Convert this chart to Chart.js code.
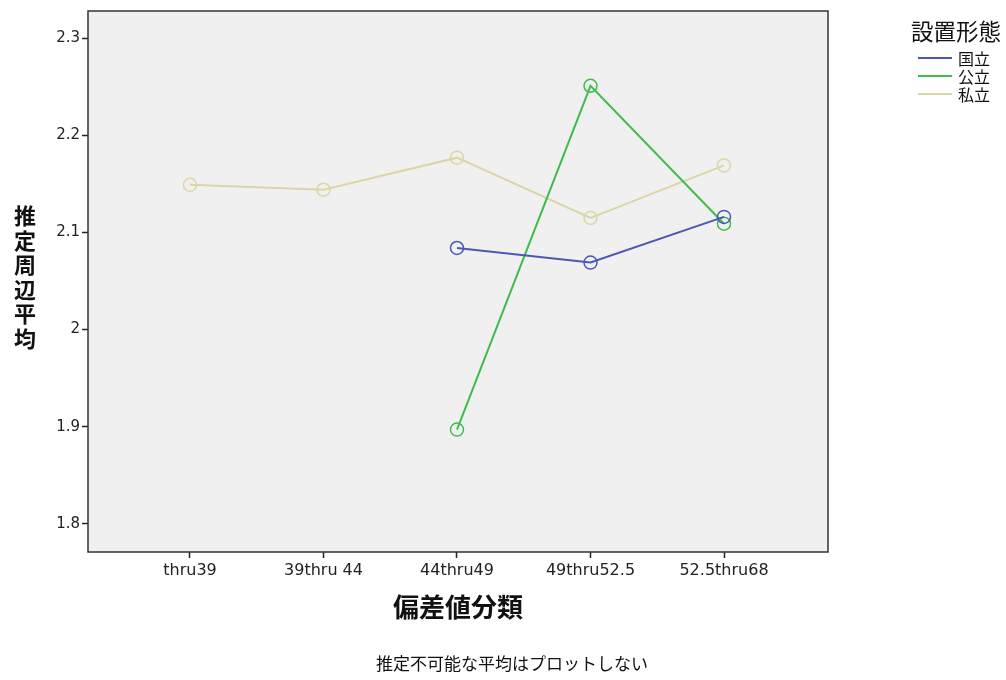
<!DOCTYPE html>
<html>
<head>
<meta charset="utf-8">
<script src="https://cdn.jsdelivr.net/npm/chart.js@4/dist/chart.umd.min.js"></script>
<style>
  html, body { margin: 0; padding: 0; background: #fff; }
  #wrap { position: relative; width: 1006px; height: 680px; font-family: "Noto Sans CJK JP", sans-serif; color: #111; }
  #wrap canvas { position: absolute; left: 0; top: 0; }
  .ytitle { position: absolute; left: 13px; top: 202px; width: 24px; font-size: 22px; line-height: 24.5px; font-weight: 700; text-align: center; }
  .xtitle { position: absolute; left: 358px; top: 590px; width: 200px; text-align: center; font-size: 26px; font-weight: 700; line-height: 32px; }
  .note { position: absolute; left: 312px; top: 652px; width: 400px; text-align: center; font-size: 17px; line-height: 22px; }
  .legend { position: absolute; left: 911px; top: 15px; }
  .legend .ttl { font-size: 22.5px; line-height: 30px; margin-bottom: 4px; }
  .legend .item { display: flex; align-items: center; height: 18px; font-size: 16px; line-height: 18px; margin-left: 7px; }
  .legend .sw { width: 34px; height: 2px; margin-right: 6px; }
</style>
</head>
<body>
<div id="wrap">
  <canvas id="chart" width="1006" height="680"></canvas>
  <div class="ytitle">推<br>定<br>周<br>辺<br>平<br>均</div>
  <div class="xtitle">偏差値分類</div>
  <div class="note">推定不可能な平均はプロットしない</div>
  <div class="legend" id="legend"><div class="ttl">設置形態</div></div>
</div>
<script>
// categories (偏差値分類)
const categories = ['thru39', '39thru 44', '44thru49', '49thru52.5', '52.5thru68'];

// estimated marginal means per 設置形態
const kokuritsu = [null, null, 2.084, 2.069, 2.116];   // 国立
const kouritsu  = [null, null, 1.897, 2.251, 2.109];   // 公立
const shiritsu  = [2.149, 2.144, 2.177, 2.115, 2.169]; // 私立

const seriesNames = ['国立', '公立', '私立'];
const seriesColors = ['#4a58b4', '#3fbd4c', '#dcd5a4'];

const yTicks = [1.8, 1.9, 2.0, 2.1, 2.2, 2.3];

function toPoints(vals) {
  return vals.map((v, i) => ({ x: i, y: v }));
}

// plot background + frame
const frame = {
  id: 'frame',
  beforeDraw(chart) {
    const { ctx, chartArea: a } = chart;
    ctx.save();
    ctx.fillStyle = '#f0f0f0';
    ctx.fillRect(a.left, a.top, a.right - a.left, a.bottom - a.top);
    ctx.restore();
  },
  afterDraw(chart) {
    const { ctx, chartArea: a } = chart;
    ctx.save();
    ctx.strokeStyle = '#333';
    ctx.lineWidth = 1.5;
    ctx.strokeRect(a.left, a.top, a.right - a.left, a.bottom - a.top);
    ctx.restore();
  }
};

const datasets = [kokuritsu, kouritsu, shiritsu].map((vals, i) => ({
  label: seriesNames[i],
  data: toPoints(vals),
  borderColor: seriesColors[i],
  backgroundColor: 'transparent',
  borderWidth: 2,
  pointRadius: 6.5,
  pointBorderWidth: 1.5,
  pointBackgroundColor: 'transparent',
  pointBorderColor: seriesColors[i],
  tension: 0,
}));

new Chart(document.getElementById('chart'), {
  type: 'line',
  data: { datasets },
  plugins: [frame],
  options: {
    responsive: false,
    animation: false,
    layout: { padding: { left: 0, top: 10, right: 178, bottom: 68 } },
    plugins: { legend: { display: false }, tooltip: { enabled: false } },
    scales: {
      x: {
        type: 'linear',
        min: -0.764,
        max: 4.779,
        afterBuildTicks: axis => { axis.ticks = categories.map((c, i) => ({ value: i })); },
        afterFit: scale => { scale.height = 60; },
        grid: { drawOnChartArea: false, drawTicks: true, tickLength: 6, tickColor: '#222', tickWidth: 1.5 },
        border: { display: false },
        ticks: {
          autoSkip: false,
          maxRotation: 0,
          padding: 3,
          color: '#222',
          font: { family: 'DejaVu Sans', size: 16 },
          callback: v => categories[v],
        },
      },
      y: {
        min: 1.771,
        max: 2.328,
        afterBuildTicks: axis => { axis.ticks = yTicks.map(v => ({ value: v })); },
        afterFit: scale => { scale.width = 88; },
        grid: { drawOnChartArea: false, drawTicks: true, tickLength: 6, tickColor: '#222', tickWidth: 1.5 },
        border: { display: false },
        ticks: {
          padding: 2,
          color: '#222',
          font: { family: 'DejaVu Sans', size: 15 },
          callback: v => String(Math.round(v * 10) / 10),
        },
      },
    },
  },
});

// legend
const legendEl = document.getElementById('legend');
seriesNames.forEach((name, i) => {
  const item = document.createElement('div');
  item.className = 'item';
  item.innerHTML = `<span class="sw" style="background:${seriesColors[i]}"></span>${name}`;
  legendEl.appendChild(item);
});
</script>
</body>
</html>
